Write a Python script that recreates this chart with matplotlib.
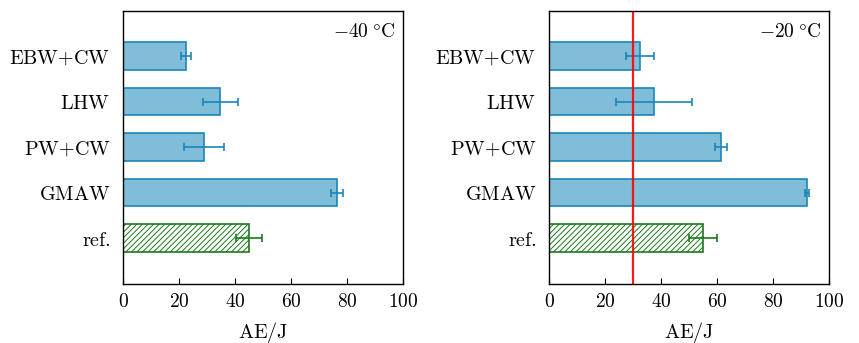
import matplotlib
matplotlib.use("Agg")
import matplotlib.pyplot as plt
import numpy as np

plt.rcParams['mathtext.fontset'] = 'cm'
plt.rcParams['font.family'] = ['DejaVu Serif']
plt.rcParams['hatch.linewidth'] = 0.7

categories = ["EBW+CW", "LHW", "PW+CW", "GMAW", "ref."]
tick_labels = [r"$\mathrm{EBW{+}CW}$", r"$\mathrm{LHW}$", r"$\mathrm{PW{+}CW}$",
               r"$\mathrm{GMAW}$", r"$\mathrm{ref.}$"]

ae_m40 = [22.5, 34.8, 29.0, 76.4, 45.1]
err_m40 = [1.7, 6.3, 7.2, 2.1, 4.6]
ae_m20 = [32.5, 37.4, 61.3, 92.1, 55.0]
err_m20 = [5.1, 13.5, 2.1, 0.8, 5.0]
titles = [r"$-40\;\degree\mathrm{C}$", r"$-20\;\degree\mathrm{C}$"]
req_line = [None, 30]

blue_fill = "#80bdd8"
blue_edge = "#1a86b8"
green = "#1b7a1b"

fig = plt.figure(figsize=(8.59, 3.43), dpi=100)
W, H = 859, 343
axes_px = [(123, 403), (549, 829)]
top_px, bot_px = 10.5, 283.5

for i, (vals, errs) in enumerate([(ae_m40, err_m40), (ae_m20, err_m20)]):
    x0, x1 = axes_px[i]
    ax = fig.add_axes([x0 / W, 1 - bot_px / H, (x1 - x0) / W, (bot_px - top_px) / H])
    y = np.arange(len(categories))[::-1]
    for k in range(len(categories)):
        is_ref = categories[k] == "ref."
        if is_ref:
            ax.barh(y[k], vals[k], height=0.6, color="white", edgecolor=green,
                    hatch="//////", linewidth=1.2)
            ec = green
        else:
            ax.barh(y[k], vals[k], height=0.6, color=blue_fill, edgecolor=blue_edge,
                    linewidth=1.2)
            ec = blue_edge
        ax.errorbar(vals[k], y[k], xerr=errs[k], fmt="none", ecolor=ec,
                    elinewidth=1.2, capsize=3, capthick=1.2)
    if req_line[i] is not None:
        ax.axvline(req_line[i], color="red", linewidth=1.6, alpha=0.9)
    ax.set_xlim(0, 100)
    ax.set_ylim(-1, 5)
    ax.set_yticks(y)
    ax.set_yticklabels(tick_labels, fontsize=14.5)
    ax.set_xticks([0, 20, 40, 60, 80, 100])
    ax.set_xticklabels([rf"$\mathrm{{{v}}}$" for v in [0, 20, 40, 60, 80, 100]], fontsize=14)
    ax.tick_params(axis="y", length=0, pad=9)
    ax.tick_params(axis="x", direction="in", length=4, pad=7)
    ax.set_xlabel(r"$\mathrm{AE}/\mathrm{J}$", fontsize=14.5, labelpad=6)
    ax.text(0.97, 0.92, titles[i], transform=ax.transAxes, ha="right", va="center",
            fontsize=14)
    for s in ax.spines.values():
        s.set_linewidth(1.0)

fig.savefig("out.png", dpi=100)
